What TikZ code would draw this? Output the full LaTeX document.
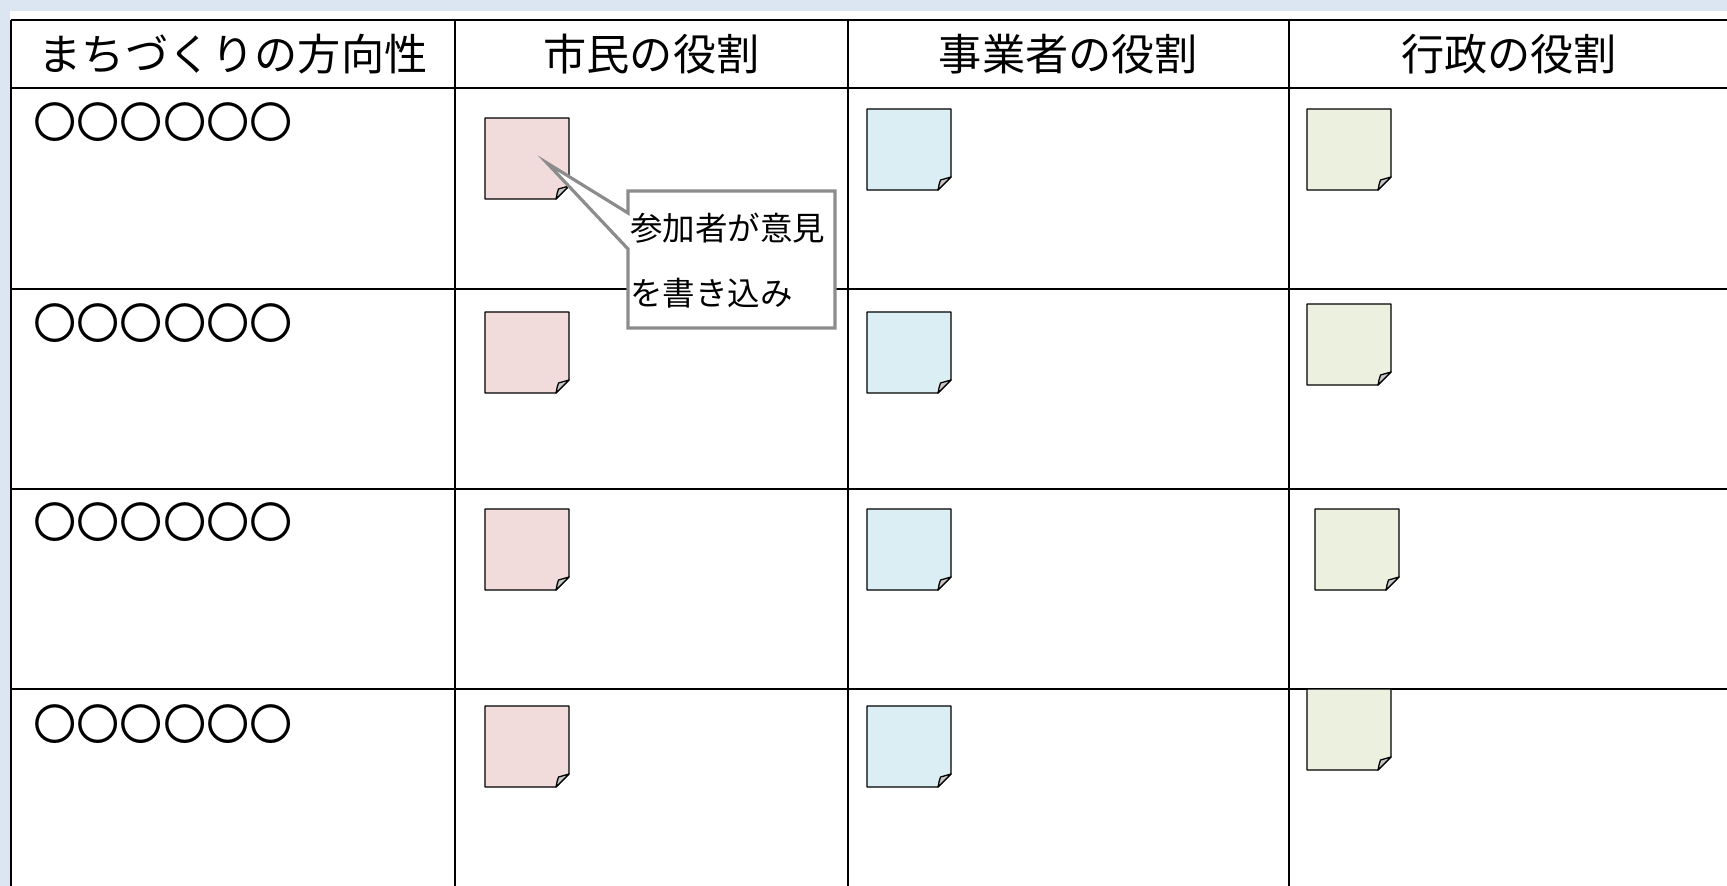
\documentclass[tikz,border=0pt]{standalone}
\usepackage{fontspec}
\setmainfont{Noto Sans CJK JP}
\definecolor{haikei}{HTML}{DCE6F2}
\definecolor{shimin}{HTML}{F2DCDB}
\definecolor{jigyo}{HTML}{DAEEF3}
\definecolor{gyosei}{HTML}{EBF1DE}
\definecolor{orekaeshi}{HTML}{C8C8C8}
\definecolor{fukigray}{HTML}{8C8C8C}
\tikzset{
	waku/.style={line width=1.1pt},
	fusen/.style={draw,line width=0.65pt,line join=round},
	midashi/.style={font=\fontsize{21.6pt}{26pt}\selectfont,inner sep=0pt},
	kakikomi/.style={font=\fontsize{16.25pt}{20pt}\selectfont,inner sep=0pt,anchor=west},
	fukidashi/.style={draw=fukigray,line width=1.6pt,fill=white,line join=miter}
}
\newcommand\fusenzu[3]{%
	\draw[fusen,fill=#3] (#1,#2) -- ++(84,0) -- ++(0,68) -- ++(-13,13) -- ++(-71,0) -- cycle;
	\draw[fusen,fill=orekaeshi] (#1+71,#2+81) .. controls (#1+72,#2+77) and (#1+72,#2+74) .. (#1+73.5,#2+71) -- (#1+84,#2+68) -- cycle;}
\begin{document}
\begin{tikzpicture}[x=0.5pt,y=-0.5pt]
\useasboundingbox (0,0) rectangle (1727,886);
\clip (0,0) rectangle (1727,886);
\fill[haikei] (0,0) rectangle (1727,886);
\fill[white] (10,11) rectangle (1727,886);
\foreach \y in {20,88,289,489,689}
	\draw[waku] (11,\y) -- (1727,\y);
\foreach \x in {11,455,848,1289}
	\draw[waku] (\x,20) -- (\x,886);
\node[midashi] (hoko) at (233,54) {まちづくりの方向性};
\node[midashi] (shiminh) at (651.5,54) {市民の役割};
\node[midashi] (jigyoh) at (1068.5,54) {事業者の役割};
\node[midashi] (gyoseih) at (1509,54) {行政の役割};
\foreach \y [count=\i] in {122,323,522,724}
	\node[midashi,anchor=west] (maru\i) at (33,\y) {〇〇〇〇〇〇};
\foreach \x/\y/\c in {485/118/shimin,485/312/shimin,485/509/shimin,485/706/shimin,
	867/109/jigyo,867/312/jigyo,867/509/jigyo,867/706/jigyo,
	1307/109/gyosei,1307/304/gyosei,1315/509/gyosei,1307/689/gyosei}
	\fusenzu{\x}{\y}{\c};
\coordinate (saki) at (547,163);
\draw[fukidashi] (628,191) -- (835,191) -- (835,328) -- (628,328) -- (628,249) -- (saki) -- (628,213) -- cycle;
\node[kakikomi] (iken1) at (630,228) {参加者が意見};
\node[kakikomi] (iken2) at (630,293) {を書き込み};
\end{tikzpicture}
\end{document}
